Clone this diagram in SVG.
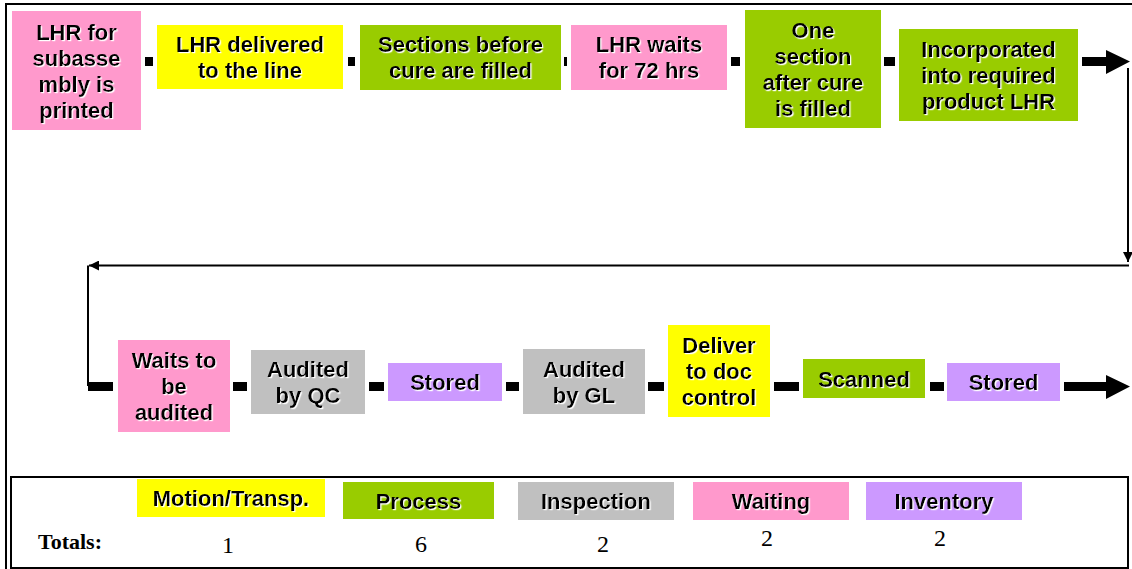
<svg xmlns="http://www.w3.org/2000/svg" width="1132" height="569" viewBox="0 0 1132 569">
  <style>
    .bx { stroke: none; }
    .pink { fill: #FF99CC; }
    .yel { fill: #FFFF00; }
    .grn { fill: #99CC00; }
    .gry { fill: #C0C0C0; }
    .pur { fill: #CC99FF; }
    .lbl { font-family: "Liberation Sans", Arial, sans-serif; font-weight: bold; font-size: 22px; fill: #000; text-anchor: middle; filter: url(#sh); }
    .leg { font-family: "Liberation Sans", Arial, sans-serif; font-weight: bold; font-size: 22px; fill: #000; text-anchor: middle; filter: url(#sh); }
    .tot { font-family: "Liberation Serif", "Times New Roman", serif; font-size: 24px; fill: #000; text-anchor: middle; }
    .link { fill: #000; }
    .thin { fill: none; stroke: #000; stroke-width: 2; }
  </style>
  <defs>
    <filter id="sh" x="-5%" y="-5%" width="110%" height="120%">
      <feDropShadow dx="1.2" dy="1.2" stdDeviation="0" flood-color="#FFFFFF" flood-opacity="1"/>
    </filter>
    <marker id="ah" viewBox="0 0 10 10" refX="10" refY="5" markerWidth="5" markerHeight="5" orient="auto" markerUnits="strokeWidth">
      <path d="M0,0 L10,5 L0,10 Z" fill="#000"/>
    </marker>
  </defs>

  <!-- outer frame (right and bottom edges run off the page) -->
  <path d="M6,570 V4 H1132" fill="none" stroke="#000" stroke-width="2"/>

  <!-- connectors -->
  <g id="connectors">
    <!-- top row links -->
    <rect class="link" x="145" y="57" width="8" height="9"/>
    <rect class="link" x="348" y="57" width="7" height="9"/>
    <rect class="link" x="564" y="57" width="3" height="9"/>
    <rect class="link" x="731" y="57" width="9" height="9"/>
    <rect class="link" x="884" y="57" width="11" height="9"/>
    <path class="link" d="M1082,57 H1106 V50 L1130,61.5 L1106,74 V66 H1082 Z"/>
    <!-- return path to second row -->
    <path class="thin" d="M1128,68 V262" marker-end="url(#ah)"/>
    <path class="thin" d="M1129,265.5 H89" marker-end="url(#ah)"/>
    <path class="thin" d="M88,265.5 V386"/>
    <!-- bottom row links -->
    <rect class="link" x="88" y="382" width="25" height="9"/>
    <rect class="link" x="233" y="382" width="14" height="9"/>
    <rect class="link" x="369" y="382" width="15" height="9"/>
    <rect class="link" x="506" y="382" width="13" height="9"/>
    <rect class="link" x="648" y="382" width="16" height="9"/>
    <rect class="link" x="774" y="382" width="25" height="9"/>
    <rect class="link" x="930" y="382" width="14" height="9"/>
    <path class="link" d="M1064,382 H1106 V375 L1130,386.5 L1106,399 V391 H1064 Z"/>
  </g>

  <!-- top row -->
  <g id="n1">
    <rect class="bx pink" x="12" y="11" width="129" height="119"/>
    <text class="lbl" x="76.5" y="40">LHR for</text>
    <text class="lbl" x="76.5" y="66">subasse</text>
    <text class="lbl" x="76.5" y="92">mbly is</text>
    <text class="lbl" x="76.5" y="118">printed</text>
  </g>
  <g id="n2">
    <rect class="bx yel" x="157" y="25" width="186" height="64"/>
    <text class="lbl" x="250" y="52">LHR delivered</text>
    <text class="lbl" x="250" y="78">to the line</text>
  </g>
  <g id="n3">
    <rect class="bx grn" x="360" y="25" width="201" height="65"/>
    <text class="lbl" x="460.5" y="52">Sections before</text>
    <text class="lbl" x="460.5" y="78">cure are filled</text>
  </g>
  <g id="n4">
    <rect class="bx pink" x="571" y="25" width="156" height="65"/>
    <text class="lbl" x="649" y="52">LHR waits</text>
    <text class="lbl" x="649" y="78">for 72 hrs</text>
  </g>
  <g id="n5">
    <rect class="bx grn" x="745" y="10" width="136" height="118"/>
    <text class="lbl" x="813" y="38">One</text>
    <text class="lbl" x="813" y="64">section</text>
    <text class="lbl" x="813" y="90">after cure</text>
    <text class="lbl" x="813" y="116">is filled</text>
  </g>
  <g id="n6">
    <rect class="bx grn" x="899" y="29" width="179" height="92"/>
    <text class="lbl" x="988.5" y="57">Incorporated</text>
    <text class="lbl" x="988.5" y="83">into required</text>
    <text class="lbl" x="988.5" y="109">product LHR</text>
  </g>

  <!-- bottom row -->
  <g id="n7">
    <rect class="bx pink" x="118" y="340" width="112" height="92"/>
    <text class="lbl" x="174" y="368">Waits to</text>
    <text class="lbl" x="174" y="394">be</text>
    <text class="lbl" x="174" y="420">audited</text>
  </g>
  <g id="n8">
    <rect class="bx gry" x="251" y="350" width="114" height="64"/>
    <text class="lbl" x="308" y="377">Audited</text>
    <text class="lbl" x="308" y="403">by QC</text>
  </g>
  <g id="n9">
    <rect class="bx pur" x="388" y="363" width="114" height="38"/>
    <text class="lbl" x="445" y="390">Stored</text>
  </g>
  <g id="n10">
    <rect class="bx gry" x="523" y="349" width="122" height="65"/>
    <text class="lbl" x="584" y="377">Audited</text>
    <text class="lbl" x="584" y="403">by GL</text>
  </g>
  <g id="n11">
    <rect class="bx yel" x="668" y="325" width="102" height="92"/>
    <text class="lbl" x="719" y="353">Deliver</text>
    <text class="lbl" x="719" y="379">to doc</text>
    <text class="lbl" x="719" y="405">control</text>
  </g>
  <g id="n12">
    <rect class="bx grn" x="803" y="359" width="122" height="39"/>
    <text class="lbl" x="864" y="387">Scanned</text>
  </g>
  <g id="n13">
    <rect class="bx pur" x="947" y="363" width="113" height="38"/>
    <text class="lbl" x="1003.5" y="390">Stored</text>
  </g>

  <!-- totals table -->
  <g id="legend">
    <rect x="11" y="477" width="1117" height="91" fill="#fff" stroke="#000" stroke-width="2"/>
    <rect class="bx yel" x="137" y="479" width="188" height="38"/>
    <text class="leg" x="231" y="506">Motion/Transp.</text>
    <rect class="bx grn" x="343" y="482" width="151" height="37"/>
    <text class="leg" x="418.5" y="509">Process</text>
    <rect class="bx gry" x="518" y="482" width="156" height="38"/>
    <text class="leg" x="596" y="509">Inspection</text>
    <rect class="bx pink" x="693" y="482" width="156" height="38"/>
    <text class="leg" x="771" y="509">Waiting</text>
    <rect class="bx pur" x="866" y="482" width="156" height="38"/>
    <text class="leg" x="944" y="509">Inventory</text>
    <text x="38" y="549" font-family="Liberation Serif, 'Times New Roman', serif" font-weight="bold" font-size="22px">Totals:</text>
    <text class="tot" x="228" y="553">1</text>
    <text class="tot" x="421" y="552">6</text>
    <text class="tot" x="603" y="552">2</text>
    <text class="tot" x="767" y="546">2</text>
    <text class="tot" x="940" y="546">2</text>
  </g>
</svg>
